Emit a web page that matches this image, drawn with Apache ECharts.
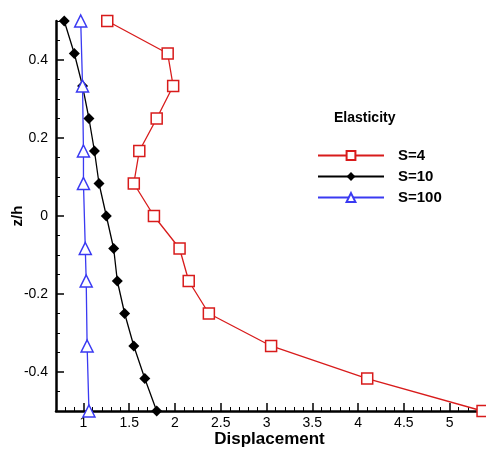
<!DOCTYPE html>
<html>
<head>
<meta charset="utf-8">
<script src="https://cdn.jsdelivr.net/npm/echarts@6/dist/echarts.min.js"></script>
<style>
  html, body { margin: 0; padding: 0; background: #fff; }
  #chart { width: 486px; height: 451px; }
</style>
</head>
<body>
<div id="chart"></div>
<script>
// z/h levels and displacement values
var zLevels = [0.5, 0.4167, 0.3333, 0.25, 0.1667, 0.0833, 0, -0.0833, -0.1667, -0.25, -0.3333, -0.4167, -0.5];
var s4 = [1.26, 1.92, 1.98, 1.80, 1.61, 1.55, 1.77, 2.05, 2.15, 2.37, 3.05, 4.10, 5.36];
var s10 = [0.79, 0.90, 0.99, 1.06, 1.12, 1.17, 1.25, 1.33, 1.37, 1.45, 1.55, 1.67, 1.80];
var zS100 = [0.5, 0.3333, 0.1667, 0.0833, -0.0833, -0.1667, -0.3333, -0.5];
var s100 = [0.97, 0.99, 1.0, 1.0, 1.02, 1.03, 1.04, 1.06];

// tick positions
var xMajor = [1, 1.5, 2, 2.5, 3, 3.5, 4, 4.5, 5];
var xMinor = [0.8, 0.9, 1.1, 1.2, 1.3, 1.4, 1.6, 1.7, 1.8, 1.9, 2.1, 2.2, 2.3, 2.4, 2.6, 2.7, 2.8, 2.9,
  3.1, 3.2, 3.3, 3.4, 3.6, 3.7, 3.8, 3.9, 4.1, 4.2, 4.3, 4.4, 4.6, 4.7, 4.8, 4.9, 5.1, 5.2, 5.3];
var yMajor = [-0.4, -0.2, 0, 0.2, 0.4];
var yMinor = [-0.5, -0.45, -0.35, -0.3, -0.25, -0.15, -0.1, -0.05, 0.05, 0.1, 0.15, 0.25, 0.3, 0.35, 0.45, 0.5];

function pairs(xs, zs) {
  return xs.map(function (v, i) { return [v, zs[i]]; });
}

var font = 'Liberation Sans, Arial, sans-serif';
var xMin = 0.7, xMax = 5.365;

option = {
  backgroundColor: '#fff',
  animation: false,
  title: {
    text: 'Elasticity',
    left: 334,
    top: 111,
    padding: 0,
    textStyle: { fontFamily: font, fontSize: 14, fontWeight: 'bold', color: '#000' }
  },
  legend: {
    orient: 'vertical',
    left: 317,
    top: 148,
    padding: 0,
    itemWidth: 66,
    itemHeight: 11,
    itemGap: 6,
    textStyle: { fontFamily: font, fontSize: 15, fontWeight: 'bold', color: '#000', padding: [0, 0, 0, 9] },
    data: ['S=4', 'S=10', 'S=100']
  },
  grid: { left: 56, right: 3, top: 21, bottom: 40, outerBoundsMode: 'none' },
  xAxis: [
    {
      type: 'value', min: xMin, max: xMax, position: 'bottom',
      name: 'Displacement', nameLocation: 'middle', nameGap: 20, nameMoveOverlap: false,
      nameTextStyle: { fontFamily: font, fontSize: 17, fontWeight: 'bold', color: '#000' },
      axisLine: { onZero: false, lineStyle: { color: '#000', width: 2.5 } },
      axisTick: { inside: true, length: 8, lineStyle: { color: '#000', width: 1.5 }, customValues: xMajor },
      axisLabel: { customValues: xMajor, margin: 5, fontFamily: font, fontSize: 14, color: '#000' },
      splitLine: { show: false }
    },
    {
      type: 'value', min: xMin, max: xMax, position: 'bottom',
      axisLine: { show: false, onZero: false },
      axisTick: { inside: true, length: 4, lineStyle: { color: '#000', width: 1 }, customValues: xMinor },
      axisLabel: { show: false },
      splitLine: { show: false }
    }
  ],
  yAxis: [
    {
      type: 'value', min: -0.5, max: 0.5, position: 'left',
      name: 'z/h', nameLocation: 'middle', nameGap: 31, nameRotate: 90, nameMoveOverlap: false,
      nameTextStyle: { fontFamily: font, fontSize: 15, fontWeight: 'bold', color: '#000' },
      axisLine: { onZero: false, lineStyle: { color: '#000', width: 2.5 } },
      axisTick: { inside: true, length: 8, lineStyle: { color: '#000', width: 1.5 }, customValues: yMajor },
      axisLabel: { customValues: yMajor, margin: 8, fontFamily: font, fontSize: 14, color: '#000' },
      splitLine: { show: false }
    },
    {
      type: 'value', min: -0.5, max: 0.5, position: 'left',
      axisLine: { show: false, onZero: false },
      axisTick: { inside: true, length: 4, lineStyle: { color: '#000', width: 1 }, customValues: yMinor },
      axisLabel: { show: false },
      splitLine: { show: false }
    }
  ],
  series: [
    {
      name: 'S=4', type: 'line', clip: false,
      symbol: 'rect', symbolSize: 11,
      itemStyle: { color: '#fff', borderColor: '#d81b1b', borderWidth: 1.5 },
      lineStyle: { color: '#d81b1b', width: 1.3 },
      data: pairs(s4, zLevels)
    },
    {
      name: 'S=10', type: 'line', clip: false,
      symbol: 'diamond', symbolSize: 11,
      itemStyle: { color: '#000' },
      lineStyle: { color: '#000', width: 1.3 },
      data: pairs(s10, zLevels)
    },
    {
      name: 'S=100', type: 'line', clip: false,
      symbol: 'triangle', symbolSize: 12,
      itemStyle: { color: '#fff', borderColor: '#3a3af2', borderWidth: 1.5 },
      lineStyle: { color: '#3a3af2', width: 1.3 },
      data: pairs(s100, zS100)
    }
  ]
};

var myChart = echarts.init(document.getElementById('chart'));
myChart.setOption(option);
</script>
</body>
</html>
